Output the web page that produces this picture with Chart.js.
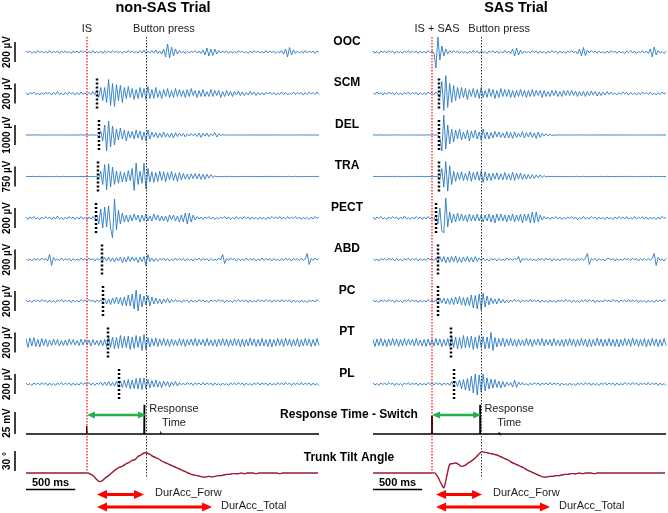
<!DOCTYPE html>
<html><head><meta charset="utf-8">
<script src="https://cdn.jsdelivr.net/npm/chart.js@4.4.1/dist/chart.umd.min.js"></script>
<style>
html,body{margin:0;padding:0;background:#fff;}
#wrap{position:relative;width:668px;height:513px;overflow:hidden;background:#fff;}
canvas{position:absolute;left:0;top:0;}
</style></head><body>
<div id="wrap"><canvas id="cl" width="668" height="513"></canvas><canvas id="cr" width="668" height="513"></canvas></div>
<script>
// ---------------- DATA ----------------
const EMG_STEP_MS = 20;  // sample spacing of the EMG traces
const TILT_STEP_MS = 30; // sample spacing of the tilt traces
const channels = ['OOC','SCM','DEL','TRA','PECT','ABD','PC','PT','PL'];
const barMicroVolts = [200,200,1000,750,200,200,200,200,200];
const switchBarMV = 25;
const tiltBarDeg = 30;
const timeBarMs = 500;

// ---- non-SAS trial (µV) ----
const leftOOC = [
10,-5,10,-15,5,-10,15,-5,10,-10,
5,-10,15,-10,5,-5,10,-15,10,-5,
10,-10,5,-15,10,-5,10,-10,15,-5,
10,-10,5,-10,15,-10,5,-10,10,-15,
10,-5,10,-10,15,-5,10,-10,5,-15,
10,-10,15,-5,10,-10,5,-10,15,-10,
20,-15,10,-10,15,-10,20,-15,10,-20,
30,-50,80,-60,50,-40,30,-20,15,-10,
10,-15,5,-10,10,-5,15,-10,10,-15,
20,-30,40,-40,30,-35,30,-20,15,-10,
10,-5,10,-15,10,-10,5,-10,15,-5,
10,-10,5,-15,10,-10,15,-5,10,-10,
5,-10,15,-10,10,-5,10,-15,5,-10,
15,-20,30,-50,45,-30,20,-15,10,-10,
5,-10,15,-10,10,-5,10,-15,10,-5];
const leftSCM = [
10,-15,10,-5,15,-10,5,-15,10,-10,
15,-5,10,-15,10,-10,20,-10,5,-15,
10,-10,15,-5,10,-15,10,-10,15,-10,
5,-15,10,-10,20,-10,30,-40,60,-70,
60,-90,140,-120,100,-130,90,-70,80,-90,
60,-50,70,-40,50,-60,40,-50,60,-40,
50,-60,70,-50,40,-50,60,-40,30,-50,
40,-30,50,-40,30,-40,50,-30,40,-30,
30,-40,40,-30,50,-20,30,-40,30,-30,
40,-30,20,-30,40,-30,30,-20,30,-40,
20,-30,30,-20,20,-30,20,-15,25,-20,
15,-20,10,-15,20,-10,15,-20,10,-15,
10,-15,10,-5,15,-10,10,-15,5,-10,
15,-10,10,-15,5,-10,15,-10,10,-5,
10,-15,10,-10,15,-5,10,-10,15,-10];
const leftDEL = [
0,5,-5,0,10,-5,0,5,-10,0,
5,-5,0,10,-5,0,5,-5,0,5,
-5,0,5,-10,0,5,-5,0,10,-5,
0,5,-5,0,10,-5,0,-80,200,-300,
500,-800,700,-600,450,-500,300,-250,350,-200,
250,-300,200,-150,180,-200,250,-150,200,-250,
150,-300,250,-200,150,-100,120,-150,100,-120,
150,-100,80,-120,100,-150,120,-80,100,-60,
80,-100,60,-50,70,-40,60,-80,100,-120,
80,-60,100,-80,60,-40,120,-100,60,-30,
20,-10,5,-5,0,5,-5,0,5,-5,
0,5,-5,0,5,-5,0,5,-5,0,
5,-5,0,5,-5,0,5,-5,0,5,
-5,0,5,-5,0,5,-5,0,5,-5,
0,5,-5,0,5,-5,0,5,-5,0];
const leftTRA = [
0,5,-5,0,5,-5,0,5,-5,0,
5,-5,0,5,-5,0,5,-5,0,5,
-5,0,5,-5,0,5,-5,0,5,-5,
0,5,-5,0,5,-5,0,-60,200,-300,
450,-500,480,-400,350,-300,200,-250,180,-200,
150,-200,220,-150,300,-520,500,-300,200,-250,
490,-480,300,-200,180,-220,150,-190,200,-150,
180,-200,150,-120,190,-150,120,-180,150,-130,
110,-100,90,-110,100,-80,110,-90,100,-110,
80,-100,90,-60,70,-40,20,-10,5,-5,
0,5,-5,0,5,-5,0,5,-5,0,
5,-5,0,5,-5,0,5,-5,0,5,
-5,0,5,-5,0,5,-5,0,5,-5,
0,5,-5,0,5,-5,0,5,-5,0,
5,-5,0,5,-5,0,5,-5,0,5];
const leftPECT = [
10,-15,10,-5,15,-10,5,-15,10,-10,
15,-5,10,-15,10,-10,20,-10,5,-15,
10,-10,15,-5,10,-15,10,-10,15,-10,
5,-15,10,-10,15,-10,30,-60,90,-100,
110,-90,120,-100,-200,190,-120,80,-60,50,
-40,30,-40,30,-30,40,-20,30,-40,30,
-30,40,-30,20,-30,40,-20,30,-30,20,
-30,20,-40,30,-20,30,-30,20,-40,30,
-40,50,-60,50,-40,30,-20,15,-10,10,
-15,10,-5,15,-10,10,-15,5,-10,10,
-5,15,-10,10,-15,5,-10,15,-10,5,
-10,15,-5,10,-15,10,-10,5,-15,10,
-10,5,-15,10,-10,15,-5,10,-10,15,
-10,5,-10,15,-10,10,-5,15,-10,10,
-15,10,-10,5,-15,10,-10,15,-5,10];
const leftABD = [
10,-10,5,-15,10,-5,10,-10,15,-5,
10,-15,50,-60,20,-10,5,-10,15,-10,
10,-5,10,-15,10,-10,5,-10,15,-5,
10,-10,15,-5,10,-15,10,-5,10,-10,
20,-15,25,-20,15,-25,20,-15,25,-30,
20,-25,30,-20,25,-15,20,-30,25,-20,
30,-60,50,-20,15,-20,10,-15,10,-5,
15,-10,10,-15,5,-10,15,-10,10,-5,
10,-15,10,-10,5,-15,10,-5,15,-10,
10,-5,10,-15,10,-10,5,-10,15,-5,
50,-40,10,-10,15,-5,10,-15,10,-10,
5,-10,15,-10,10,-5,10,-15,5,-10,
15,-10,10,-5,10,-15,10,-10,5,-15,
10,-10,15,-5,10,-15,10,-5,10,-10,
15,-10,5,60,-50,10,-10,15,-5,10];
const leftPC = [
10,-10,5,-15,10,-5,10,-10,15,-5,
10,-15,10,-10,5,-15,10,-5,15,-10,
10,-5,10,-15,10,-10,5,-10,15,-5,
10,-10,15,-5,10,-15,10,-5,10,-10,
25,-30,20,-35,30,-25,40,-30,35,-45,
40,-50,60,-50,70,-80,110,-100,70,-60,
50,-40,55,-50,40,-30,30,-25,20,-30,
20,-15,25,-20,15,-10,15,-10,10,-15,
10,-5,10,-15,10,-10,5,-10,15,-5,
10,-10,5,-15,10,-5,10,-10,15,-5,
10,-15,10,-10,5,-15,10,-5,15,-10,
10,-5,10,-15,10,-10,5,-10,15,-5,
10,-10,15,-5,10,-15,10,-5,10,-10,
15,-10,10,-5,10,-15,10,-10,5,-15,
10,-10,5,-15,10,-5,10,-10,15,-5];
const leftPT = [
40,-50,45,-35,50,-40,30,-45,40,-30,
35,-40,25,-30,35,-25,30,-35,20,-30,
25,-30,35,-20,30,-25,20,-30,35,-25,
30,-20,25,-35,30,-25,20,-30,25,-35,
30,-40,60,-50,55,-65,50,-60,70,-55,
60,-50,65,-70,55,-60,70,-50,60,-80,
80,-70,50,-45,40,-35,45,-40,35,-30,
40,-35,30,-40,35,-30,25,-35,40,-30,
35,-40,30,-25,35,-30,40,-35,30,-25,
30,-35,40,-30,25,-35,30,-40,35,-30,
40,-30,35,-40,30,-35,40,-30,35,-45,
35,-40,30,-35,45,-30,35,-40,30,-35,
40,-35,30,-40,35,-45,30,-35,40,-30,
35,-40,45,-30,35,-40,30,-35,40,-45,
30,-35,40,-30,35,-40,30,-35,40,-30];
const leftPL = [
10,-10,5,-15,10,-5,10,-10,15,-5,
10,-15,10,-10,5,-15,10,-5,15,-10,
10,-5,10,-15,10,-10,5,-10,15,-5,
10,-5,15,-10,10,-15,10,-5,20,-15,
20,-15,25,-20,15,-20,25,-30,30,-35,
40,-35,45,-50,40,-45,55,-50,60,-55,
60,-50,45,-40,35,-30,40,-30,25,-35,
30,-20,25,-30,20,-15,25,-20,15,-10,
10,-10,15,-5,10,-15,10,-5,10,-10,
15,-10,10,-5,10,-15,10,-10,5,-15,
10,-10,5,-15,10,-5,10,-10,15,-5,
10,-15,10,-10,5,-15,10,-5,15,-10,
10,-5,10,-15,10,-10,5,-10,15,-5,
10,-10,15,-5,10,-15,10,-5,10,-10,
15,-10,10,-5,10,-15,10,-10,5,-15];
// trunk tilt (degrees)
const leftTilt = [
0,0,0,0,0,0,0,0,0,0,
0,0,0,0,0,0,0,0,0,0,
0,0,-2,-5,-10,-13,-11,-7,-4,0,
4,7,9,11,14,16,19,20,25,27,
30,30,28,25,23,21,18,16,14,12,
10,8,6,4,2,0,-2,-3,-4,-5,
-6,-6,-5,-6,-5,-4,-4,-3,-2,-2,
-1,-1,-1,0,-1,0,0,0,-1,0,
0,0,0,0,0,0,-1,0,0,0,
0,0,0,0,0,0,0,0,0,0];
// response switch (ms, mV)
const leftSwitchT = [0,612,615,618,621,1199,1202,1205,1208,1365,1372,1379,2980];
const leftSwitchV = [0,0,9,9,0,0,35,35,0,0,1.2,0,0];
const leftISms = 620, leftPressMs = 1220;
const leftOnsetsMs = [null,722,742,732,712,773,783,834,946];
const leftDurForwMs = [722,1200];
const leftDurTotalMs = [722,1892];

// ---- SAS trial (µV) ----
const rightOOC = [
10,-10,5,-15,10,-5,10,-10,15,-5,
10,-15,10,-10,5,-15,10,-5,15,-10,
10,-5,10,-15,10,-10,5,-10,15,-5,
10,-10,-160,150,-80,60,-40,30,-20,15,
-10,15,-5,10,-15,10,-10,5,-15,10,
-10,15,-5,10,-15,10,-10,5,-15,10,
-5,15,-10,10,-15,5,-10,15,-10,10,
-15,30,-40,40,-30,20,-15,10,-10,5,
-10,15,-5,10,-15,10,-10,5,-15,10,
-10,15,-5,10,-15,10,-10,5,-15,10,
-5,15,-10,10,-20,30,-40,45,-35,20,
-10,15,-5,10,-15,10,-10,5,-15,10,
-10,15,-5,10,-15,10,-10,5,-15,10,
-5,15,-10,10,-15,5,-10,15,-10,10,
-15,30,-50,50,-30,15,-10,5,-15,10];
const rightSCM = [
10,-10,15,-5,10,-15,10,-10,15,-5,
10,-15,10,-10,5,-15,10,-5,15,-10,
10,-5,10,-15,10,-10,5,-10,15,-5,
10,-10,15,-5,-40,120,-170,180,-140,100,
-90,80,-70,60,-50,60,-40,50,-60,40,
-30,50,-40,40,-50,60,-40,30,-40,50,
-30,40,-50,30,-40,50,-30,40,-30,40,
-40,30,-40,30,-30,40,-30,30,-40,30,
-30,40,-30,30,-20,30,-40,30,-30,20,
-30,30,-20,30,-30,20,-30,30,-20,30,
-20,30,-20,25,-30,20,-25,20,-30,20,
-20,25,-15,20,-25,15,-20,15,-15,20,
-10,15,-10,5,-15,10,-10,15,-5,10,
-15,10,-10,5,-15,10,-10,15,-5,10,
-10,15,-10,5,-15,10,-10,15,-5,10];
const rightDEL = [
0,5,-5,0,10,-5,0,5,-10,0,
5,-5,0,10,-5,0,5,-5,0,5,
-5,0,5,-10,0,5,-5,0,10,-5,
0,5,-5,0,-150,-800,1000,-700,500,-450,
300,-350,250,-200,300,-250,150,-200,250,-300,
200,-150,250,-200,150,-250,300,-200,150,-200,
120,-150,180,-100,150,-120,100,-150,170,-150,
120,-170,150,-120,80,-100,170,-150,120,-100,
150,-120,100,-170,150,-120,80,-60,70,-50,
40,-30,10,-10,0,5,-5,0,5,-5,
0,5,-5,0,5,-5,0,5,-5,0,
5,-5,0,5,-5,0,5,-5,0,5,
-5,0,5,-5,0,5,-5,0,5,-5,
0,5,-5,0,5,-5,0,5,-5,0,
5,-5,0,5,-5,0,5,-5,0,5];
const rightTRA = [
0,5,-5,0,5,-5,0,5,-5,0,
5,-5,0,5,-5,0,5,-5,0,5,
-5,0,5,-5,0,5,-5,0,5,-5,
0,5,-5,0,-100,300,-400,560,-550,400,
-300,200,-180,150,-120,180,-150,120,-150,200,
-180,150,-120,180,-150,200,-220,180,-150,120,
-150,120,-100,140,-120,100,-130,150,-120,100,
-140,160,-150,120,-100,130,-110,90,-100,80,
-90,70,-80,60,-50,60,-40,30,-20,10,
-5,5,0,-5,5,0,-5,5,0,-5,
0,5,-5,0,5,-5,0,5,-5,0,
5,-5,0,5,-5,0,5,-5,0,5,
-5,0,5,-5,0,5,-5,0,5,-5,
0,5,-5,0,5,-5,0,5,-5,0,
5,-5,0,5,-5,0,5,-5,0,5];
const rightPECT = [
10,-15,10,-5,15,-10,5,-15,10,-10,
15,-5,10,-15,10,-10,20,-10,5,-15,
10,-10,15,-5,10,-15,10,-10,15,-10,
5,-15,30,-60,100,-130,-150,200,-90,60,
-50,40,-40,50,-30,40,-30,30,-40,40,
-30,30,-30,40,-30,30,-40,30,-30,40,
-40,30,-50,40,-30,40,-30,30,-40,30,
-30,40,-40,30,-30,40,-50,40,-30,40,
-50,60,-50,60,-40,30,-20,15,-10,10,
-15,10,-5,15,-10,10,-15,5,-10,10,
-5,15,-10,10,-15,5,-10,15,-10,5,
-10,15,-5,10,-15,10,-10,5,-15,10,
-10,5,-15,10,-10,15,-5,10,-10,15,
-10,5,-10,15,-10,10,-5,15,-10,10,
-15,10,-10,5,-15,10,-10,15,-5,10];
const rightABD = [
10,-10,5,-15,10,-5,10,-10,15,-5,
10,-15,10,-10,5,-15,10,-5,15,-10,
10,-5,10,-15,10,-10,5,-10,15,-5,
10,-10,15,-25,30,-20,30,-35,25,-30,
30,-25,35,-30,20,-30,25,-20,30,-25,
20,-25,30,-20,15,-10,15,-10,5,-15,
10,-5,10,-15,10,-10,5,-10,15,-5,
10,-10,15,-5,30,-30,10,-5,10,-10,
10,-10,5,-15,10,-5,10,-10,15,-5,
10,-15,10,-10,5,-15,10,-5,15,-10,
10,-10,5,-15,10,-5,10,-10,15,60,
-50,10,-5,10,-15,10,-10,5,-15,10,
10,-5,10,-15,10,-10,5,-10,15,-5,
10,-10,15,-5,10,-15,10,-5,10,-10,
10,-10,15,60,-60,20,-10,5,-15,10];
const rightPC = [
10,-10,5,-15,10,-5,10,-10,15,-5,
10,-15,10,-10,5,-15,10,-5,15,-10,
10,-5,10,-15,10,-10,5,-10,15,-5,
10,-10,15,-25,30,-20,30,-30,25,-35,
30,-35,40,-30,45,-40,35,-50,40,-45,
60,-70,55,-80,70,-90,80,-60,50,-40,
30,-25,20,-30,25,-20,15,-20,10,-15,
10,-10,15,-5,10,-15,10,-5,10,-10,
15,-10,10,-5,10,-15,10,-10,5,-15,
10,-10,5,-15,10,-5,10,-10,15,-5,
10,-15,10,-10,5,-15,10,-5,15,-10,
10,-5,10,-15,10,-10,5,-10,15,-5,
10,-10,15,-5,10,-15,10,-5,10,-10,
15,-10,10,-5,10,-15,10,-10,5,-15,
10,-10,5,-15,10,-5,10,-10,15,-5];
const rightPT = [
30,-40,35,-30,40,-35,30,-40,35,-30,
40,-30,35,-40,30,-35,40,-30,35,-25,
30,-35,40,-30,25,-35,30,-40,35,-30,
30,-35,40,-30,35,-40,30,-35,40,-45,
60,-50,55,-65,50,-60,70,-55,60,-50,
65,-70,55,-60,70,-50,60,-65,55,-60,
100,-80,50,-45,40,-35,45,-40,35,-30,
40,-35,30,-40,35,-30,25,-35,40,-30,
35,-40,30,-25,35,-30,40,-35,30,-25,
30,-35,40,-30,25,-35,30,-40,35,-30,
40,-30,35,-40,30,-35,40,-30,35,-45,
35,-40,30,-35,45,-30,35,-40,30,-35,
40,-35,30,-40,35,-45,30,-35,40,-30,
35,-40,45,-30,35,-40,30,-35,40,-45,
30,-35,40,-30,35,-40,30,-35,40,-30];
const rightPL = [
10,-10,5,-15,10,-5,10,-10,15,-5,
10,-15,10,-10,5,-15,10,-5,15,-10,
10,-5,10,-15,10,-10,5,-10,15,-5,
10,-10,15,-5,10,-15,10,-5,10,-15,
20,-15,30,-25,40,-50,45,-60,55,-70,
80,-90,100,-110,90,-80,100,-70,60,-50,
50,-40,45,-35,30,-40,25,-30,20,-15,
15,-30,40,-35,20,-10,15,-10,5,-15,
10,-10,15,-5,10,-15,10,-5,10,-10,
15,-10,10,-5,10,-15,10,-10,5,-15,
10,-10,5,-15,10,-5,10,-10,15,-5,
10,-15,10,-10,5,-15,10,-5,15,-10,
10,-5,10,-15,10,-10,5,-10,15,-5,
10,-10,15,-5,10,-15,10,-5,10,-10,
15,-10,10,-5,10,-15,10,-10,5,-15];
const rightTilt = [
0,0,0,0,0,0,0,0,0,0,
0,0,0,0,0,0,0,0,0,0,
0,0,-6,-15,-22,-5,13,14,15,13,
10,11,14,17,20,24,29,32,31,30,
29,28,27,25,23,21,19,16,14,12,
10,8,5,3,1,-1,-3,-5,-6,-6,
-5,-5,-4,-4,-3,-2,-2,-1,-1,-1,
0,-1,0,0,0,-1,0,0,0,0,
0,0,0,0,0,0,0,0,0,0,
0,0,0,0,0,0,0,0,0,0];
const rightSwitchT = [0,594,597,600,603,1084,1087,1090,1093,1275,1282,1289,2980];
const rightSwitchV = [0,0,20,20,0,0,35,35,0,0,1.2,0,0];
const rightISms = 600, rightPressMs = 1100;
const rightOnsetsMs = [null,671,671,671,641,661,661,793,824];
const rightDurForwMs = [641,1109];
const rightDurTotalMs = [641,1800];

// ---------------- LAYOUT ----------------
const FONT = '"Liberation Sans", Arial, Helvetica, sans-serif';
const BAND_EMG = 41.5, BAND_SW = 39.25, BAND_TILT = 56;
const PAD_TOP = 31.25, PAD_BOTTOM = 13;
const BAR_PX = 20;                 // EMG scale bar height
const SW_BASE = 10, SW_PX = 22/25; // switch baseline from band bottom, px per mV
const TILT_BASE = 27, TILT_PX = 20/30;
const BLUE = '#2a7bc4', TILT_RED = '#9a1b2e';

function buildScales(){
  const s = {x:{type:'linear',min:0,max:3000,display:false}};
  channels.forEach((c,k)=>{
    const half = BAND_EMG/2 * barMicroVolts[k]/BAR_PX;
    s['y'+k] = {type:'linear',display:false,position:'right',stack:'rows',stackWeight:BAND_EMG,min:-half,max:half};
  });
  s.ySw = {type:'linear',display:false,position:'right',stack:'rows',stackWeight:BAND_SW,
           min:-SW_BASE/SW_PX,max:(BAND_SW-SW_BASE)/SW_PX};
  s.yTilt = {type:'linear',display:false,position:'right',stack:'rows',stackWeight:BAND_TILT,
           min:-TILT_BASE/TILT_PX,max:(BAND_TILT-TILT_BASE)/TILT_PX};
  return s;
}

function drawArrow(ctx,x1,x2,y,color,lw,hl,hw){
  ctx.save();
  ctx.strokeStyle=color; ctx.fillStyle=color; ctx.lineWidth=lw; ctx.setLineDash([]);
  ctx.beginPath(); ctx.moveTo(x1+hl*0.7,y); ctx.lineTo(x2-hl*0.7,y); ctx.stroke();
  ctx.beginPath(); ctx.moveTo(x1,y); ctx.lineTo(x1+hl,y-hw/2); ctx.lineTo(x1+hl,y+hw/2); ctx.closePath(); ctx.fill();
  ctx.beginPath(); ctx.moveTo(x2,y); ctx.lineTo(x2-hl,y-hw/2); ctx.lineTo(x2-hl,y+hw/2); ctx.closePath(); ctx.fill();
  ctx.restore();
}
function vline(ctx,x,y1,y2){ctx.beginPath();ctx.moveTo(x,y1);ctx.lineTo(x,y2);ctx.stroke();}

function annotate(p){
  return {id:'ann'+p.canvas, afterDraw(chart){
    const ctx=chart.ctx, xs=chart.scales.x;
    const X=t=>xs.getPixelForValue(t);
    const base=k=>chart.scales['y'+k].getPixelForValue(0);
    const ySw=chart.scales.ySw, yT=chart.scales.yTilt;
    ctx.save();
    // onset markers
    ctx.strokeStyle='#000'; ctx.lineWidth=2.5; ctx.setLineDash([2,2]);
    p.onsets.forEach((t,k)=>{ if(t==null) return; const x=X(t), y=base(k); vline(ctx,x,y-15,y+15); });
    // event lines
    ctx.lineWidth=1.2; ctx.setLineDash([1.5,1.5]);
    ctx.strokeStyle='#ff0000'; vline(ctx,Math.round(X(p.isMs)),37,yT.getPixelForValue(0)-1);
    ctx.lineWidth=1;
    ctx.strokeStyle='#333'; vline(ctx,Math.round(X(p.pressMs))+0.5,37,yT.getPixelForValue(-7));
    ctx.setLineDash([]);
    // arrows
    drawArrow(ctx,X(p.isMs),X(p.pressMs),415,'#22b04c',2.5,8,7);
    drawArrow(ctx,X(p.forw[0]),X(p.forw[1]),494.5,'#ff0000',3,10,9);
    drawArrow(ctx,X(p.total[0]),X(p.total[1]),507,'#ff0000',3,10,9);
    // time scale bar
    ctx.strokeStyle='#000'; ctx.lineWidth=1.5;
    ctx.beginPath(); ctx.moveTo(X(0),489.5); ctx.lineTo(X(timeBarMs),489.5); ctx.stroke();
    // texts
    ctx.fillStyle='#000'; ctx.textBaseline='middle'; ctx.textAlign='center';
    ctx.font='bold 11px '+FONT; ctx.fillText(timeBarMs+' ms',(X(0)+X(timeBarMs))/2,482.5);
    ctx.font='bold 14.5px '+FONT; ctx.fillText(p.title,p.titleX,7.5);
    ctx.font='11px '+FONT;
    ctx.fillStyle='#222';
    ctx.fillText(p.isLabel,X(p.isMs)+p.isLabelDx,29);
    ctx.fillText('Button press',X(p.pressMs)+18,29);
    ctx.fillText('Response',X(p.pressMs)+28,409);
    ctx.fillText('Time',X(p.pressMs)+28,423);
    ctx.textAlign='left';
    ctx.fillText('DurAcc_Forw',X(p.forw[1])+11,493);
    ctx.fillText('DurAcc_Total',X(p.total[1])+9,506);
    if(p.main){
      ctx.fillStyle='#000'; ctx.textAlign='center';
      ctx.font='bold 12px '+FONT;
      channels.forEach((c,k)=>ctx.fillText(c,347,base(k)-10.5));
      ctx.fillText('Response Time - Switch',349,415);
      ctx.fillText('Trunk Tilt Angle',349,458);
      ctx.strokeStyle='#000'; ctx.lineWidth=1.5;
      const rot=(txt,y)=>{ctx.save();ctx.translate(7,y);ctx.rotate(-Math.PI/2);ctx.font='bold 10px '+FONT;ctx.textAlign='center';ctx.textBaseline='middle';ctx.fillText(txt,0,0);ctx.restore();};
      channels.forEach((c,k)=>{
        const sc=chart.scales['y'+k];
        vline(ctx,15,sc.getPixelForValue(-barMicroVolts[k]/2),sc.getPixelForValue(barMicroVolts[k]/2));
        rot(barMicroVolts[k]+' µV',base(k));
      });
      vline(ctx,15,ySw.getPixelForValue(0),ySw.getPixelForValue(switchBarMV));
      rot(switchBarMV+' mV',ySw.getPixelForValue(switchBarMV/2));
      vline(ctx,15,yT.getPixelForValue(3),yT.getPixelForValue(3+tiltBarDeg));
      rot(tiltBarDeg+' °',yT.getPixelForValue(3+tiltBarDeg/2));
    }
    ctx.restore();
  }};
}

function makePanel(p){
  const datasets=[];
  p.emg.forEach((arr,k)=>datasets.push({data:arr.map((v,i)=>({x:i*EMG_STEP_MS,y:v})),yAxisID:'y'+k,
    borderColor:BLUE,borderWidth:0.9,pointRadius:0,tension:0,borderJoinStyle:'round'}));
  datasets.push({data:p.swT.map((t,i)=>({x:t,y:p.swV[i]})),yAxisID:'ySw',borderColor:'#000',borderWidth:1.3,pointRadius:0,tension:0});
  datasets.push({data:p.tilt.map((v,i)=>({x:i*TILT_STEP_MS,y:v})),yAxisID:'yTilt',borderColor:TILT_RED,borderWidth:1.4,pointRadius:0,tension:0.3});
  return new Chart(document.getElementById(p.canvas),{
    type:'line',
    data:{datasets},
    options:{responsive:false,animation:false,events:[],
      layout:{padding:{left:p.padLeft,right:p.padRight,top:PAD_TOP,bottom:PAD_BOTTOM}},
      plugins:{legend:{display:false},tooltip:{enabled:false},title:{display:false}},
      scales:buildScales()},
    plugins:[annotate(p)]
  });
}

makePanel({canvas:'cl',padLeft:26,padRight:347,
  emg:[leftOOC,leftSCM,leftDEL,leftTRA,leftPECT,leftABD,leftPC,leftPT,leftPL],
  tilt:leftTilt,swT:leftSwitchT,swV:leftSwitchV,isMs:leftISms,pressMs:leftPressMs,
  onsets:leftOnsetsMs,forw:leftDurForwMs,total:leftDurTotalMs,
  title:'non-SAS Trial',titleX:163,isLabel:'IS',isLabelDx:0,main:true});
makePanel({canvas:'cr',padLeft:373,padRight:0,
  emg:[rightOOC,rightSCM,rightDEL,rightTRA,rightPECT,rightABD,rightPC,rightPT,rightPL],
  tilt:rightTilt,swT:rightSwitchT,swV:rightSwitchV,isMs:rightISms,pressMs:rightPressMs,
  onsets:rightOnsetsMs,forw:rightDurForwMs,total:rightDurTotalMs,
  title:'SAS Trial',titleX:516,isLabel:'IS + SAS',isLabelDx:5,main:false});
</script></body></html>
